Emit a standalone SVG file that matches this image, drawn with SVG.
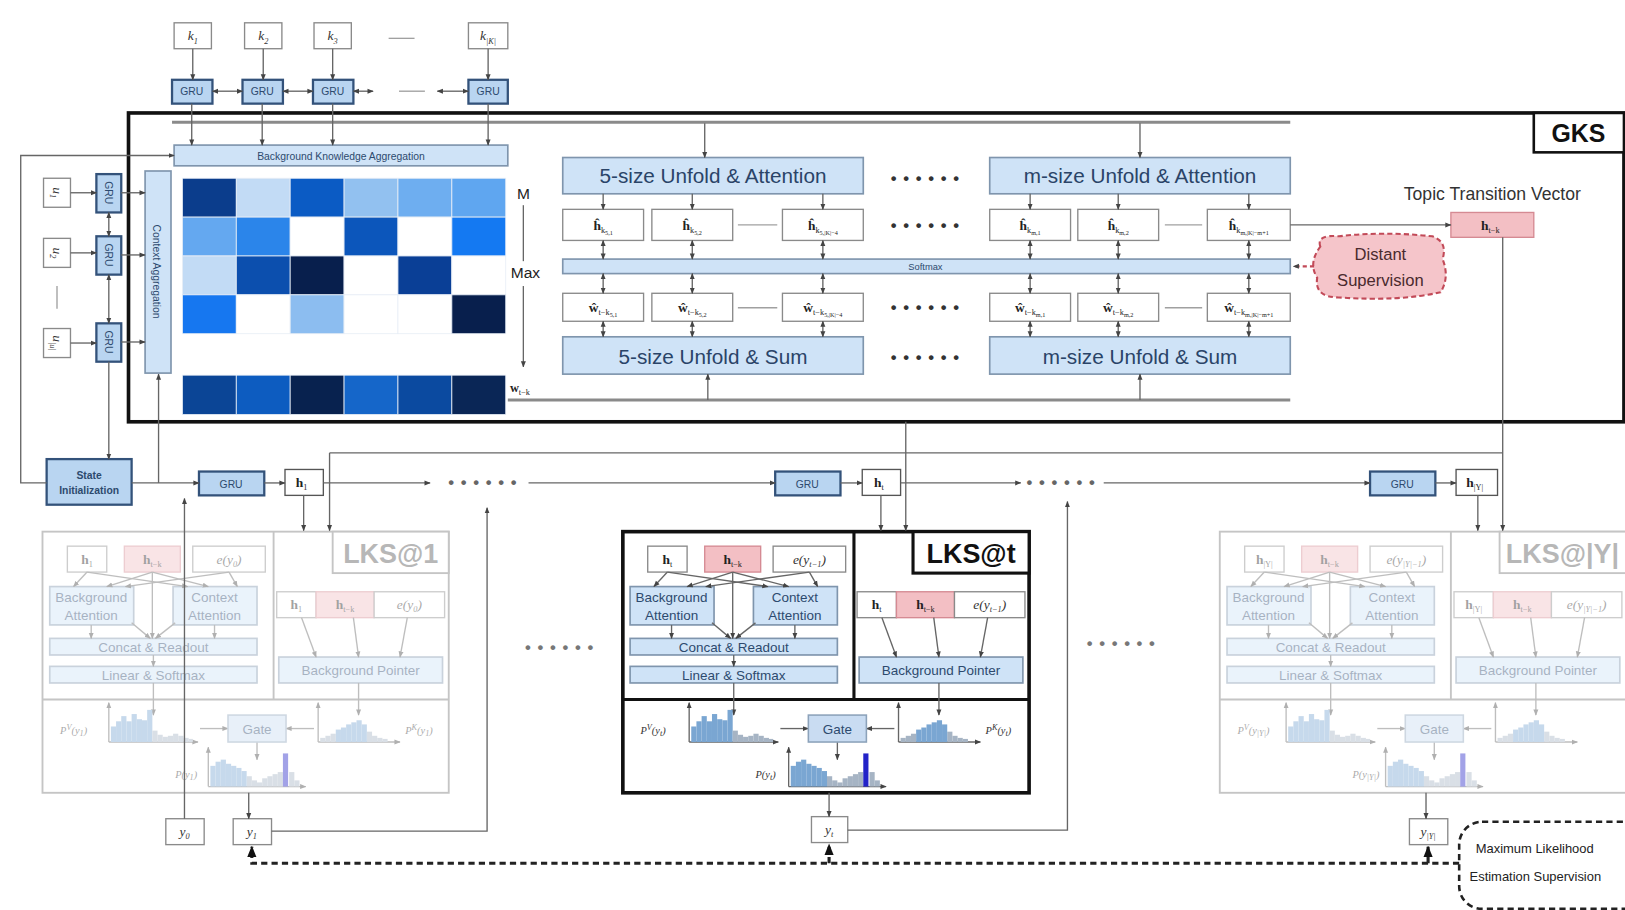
<svg xmlns="http://www.w3.org/2000/svg" width="1625" height="910" viewBox="0 0 1625 910">
<defs>
<style>
text{font-family:"Liberation Sans",Arial,sans-serif;fill:#2b3340}
.m{font-family:"Liberation Serif","Times New Roman",serif;font-weight:bold;fill:#222;font-size:13px}
.mi{font-family:"Liberation Serif","Times New Roman",serif;font-style:italic;fill:#333;font-size:13px}
.s{font-size:8px;font-weight:normal}
.ss{font-size:6px;font-weight:normal}
.c{text-anchor:middle}
.box{fill:#fff;stroke:#8a8a8a;stroke-width:1.3}
.blue{fill:#cfe3f7;stroke:#7f95ad;stroke-width:1.6}
.gru{fill:#b9d5f1;stroke:#33527a;stroke-width:2.2}
.pink{fill:#f3bfc4;stroke:#d58a93;stroke-width:1.3}
.ln{stroke:#666;stroke-width:1.3;fill:none}
.lg{stroke:#a0a0a0;stroke-width:1.3;fill:none}
.big{font-size:20px;fill:#2a4468}
.sm{font-size:10px;fill:#2d4a6e}
.bt{font-size:13px;fill:#2d4a6e}
.dots{font-size:16px;fill:#333;font-weight:bold;letter-spacing:1px}
.hb{fill:#7aa6d2}
.hg{fill:#a6b4c4}
.gate{fill:#c9dcf2;stroke:#8ca2ba;stroke-width:1.5}
</style>
<marker id="ah" viewBox="0 0 10 10" refX="9" refY="5" markerWidth="6" markerHeight="6" markerUnits="userSpaceOnUse" orient="auto-start-reverse"><path d="M0,1 L10,5 L0,9z" fill="#444"/></marker>
<marker id="ahb" viewBox="0 0 10 10" refX="9" refY="5" markerWidth="11" markerHeight="11" markerUnits="userSpaceOnUse" orient="auto-start-reverse"><path d="M0,1 L10,5 L0,9z" fill="#111"/></marker>
<g id="lksbody">
 <rect class="box" x="24" y="14" width="38" height="25"/>
 <rect class="pink" x="79" y="14" width="54" height="25"/>
 <rect class="box" x="145" y="14" width="70" height="25"/>
 <rect class="blue" x="7" y="53" width="81" height="37"/>
 <text class="bt c" x="47" y="68">Background</text><text class="bt c" x="47" y="85">Attention</text>
 <rect class="blue" x="126" y="53" width="81" height="37"/>
 <text class="bt c" x="166" y="68">Context</text><text class="bt c" x="166" y="85">Attention</text>
 <rect class="blue" x="7" y="103" width="200" height="16"/>
 <text class="bt c" x="107" y="116">Concat &amp; Readout</text>
 <rect class="blue" x="7" y="130" width="200" height="16"/>
 <text class="bt c" x="107" y="143">Linear &amp; Softmax</text>
 <rect class="box" x="226" y="58" width="38" height="25"/>
 <rect class="pink" x="264" y="58" width="56" height="25"/>
 <rect class="box" x="320" y="58" width="68" height="25"/>
 <rect class="blue" x="228" y="121" width="158" height="25"/>
 <text class="bt c" x="307" y="138">Background Pointer</text>
 <g class="ln" marker-end="url(#ah)">
  <line x1="43" y1="39" x2="30" y2="53"/><line x1="43" y1="39" x2="140" y2="53"/>
  <line x1="106" y1="39" x2="62" y2="53"/><line x1="106" y1="39" x2="160" y2="53"/>
  <line x1="180" y1="39" x2="80" y2="53"/><line x1="180" y1="39" x2="188" y2="53"/>
  <line x1="106" y1="39" x2="106" y2="103"/>
  <line x1="86" y1="88" x2="104" y2="103"/><line x1="128" y1="88" x2="109" y2="103"/>
  <line x1="47" y1="90" x2="47" y2="103"/><line x1="166" y1="90" x2="166" y2="103"/>
  <line x1="107" y1="119" x2="107" y2="130"/>
  <line x1="107" y1="146" x2="107" y2="177"/>
  <line x1="250" y1="83" x2="264" y2="121"/><line x1="300" y1="83" x2="305" y2="121"/><line x1="352" y1="83" x2="345" y2="121"/>
  <line x1="305" y1="146" x2="305" y2="177"/>
  <line x1="64" y1="203" x2="64" y2="165"/><line x1="64" y1="203" x2="150" y2="203"/>
  <line x1="266" y1="203" x2="266" y2="165"/><line x1="266" y1="203" x2="345" y2="203"/>
  <line x1="160" y1="246" x2="160" y2="208"/><line x1="160" y1="246" x2="254" y2="246"/>
  <line x1="152" y1="190" x2="179" y2="190"/><line x1="262" y1="190" x2="235" y2="190"/>
  <line x1="207" y1="203" x2="207" y2="220"/>
 </g>
 <rect class="gate" x="179" y="177" width="56" height="26"/>
 <text class="bt c" x="207" y="195">Gate</text>
 <g class="hb">
  <rect x="66" y="188" width="5" height="15"/><rect x="71" y="183" width="5" height="20"/><rect x="76" y="178" width="5" height="25"/><rect x="81" y="183" width="5" height="20"/><rect x="86" y="176" width="5" height="27"/><rect x="91" y="181" width="5" height="22"/><rect x="96" y="182" width="5" height="21"/><rect x="101" y="172" width="5" height="31"/>
 </g>
 <g class="hg">
  <rect x="106" y="192" width="5" height="11"/><rect x="111" y="196" width="5" height="7"/><rect x="116" y="198" width="5" height="5"/><rect x="121" y="197" width="5" height="6"/><rect x="126" y="195" width="5" height="8"/><rect x="131" y="197" width="5" height="6"/><rect x="136" y="199" width="5" height="4"/><rect x="141" y="200" width="4" height="3"/>
  <rect x="268" y="199" width="5" height="4"/><rect x="273" y="197" width="5" height="6"/><rect x="278" y="195" width="5" height="8"/><rect x="313" y="193" width="5" height="10"/><rect x="318" y="197" width="5" height="6"/><rect x="323" y="199" width="5" height="4"/><rect x="328" y="200" width="5" height="3"/>
  <rect x="197" y="236" width="5" height="10"/><rect x="202" y="240" width="5" height="6"/><rect x="207" y="242" width="5" height="4"/><rect x="212" y="238" width="5" height="8"/><rect x="217" y="236" width="5" height="10"/><rect x="222" y="234" width="5" height="12"/><rect x="227" y="232" width="5" height="14"/><rect x="238" y="232" width="5" height="14"/><rect x="243" y="240" width="5" height="6"/>
 </g>
 <g class="hb">
  <rect x="283" y="191" width="5" height="12"/><rect x="288" y="189" width="5" height="14"/><rect x="293" y="186" width="5" height="17"/><rect x="298" y="184" width="5" height="19"/><rect x="303" y="182" width="5" height="21"/><rect x="308" y="186" width="5" height="17"/>
  <rect x="162" y="226" width="5" height="20"/><rect x="167" y="222" width="5" height="24"/><rect x="172" y="220" width="5" height="26"/><rect x="177" y="224" width="5" height="22"/><rect x="182" y="226" width="5" height="20"/><rect x="187" y="228" width="5" height="18"/><rect x="192" y="231" width="5" height="15"/>
 </g>
 <rect x="232" y="214" width="5" height="32" fill="#2323c8"/>
</g>
</defs>
<rect width="1625" height="910" fill="#fff"/>
<g transform="scale(1.03635)">

<!-- GKS frame -->
<g id="gks-frame">
 <rect x="124" y="109" width="1443" height="298" fill="none" stroke="#111" stroke-width="3.5"/>
 <rect x="1480" y="109" width="87" height="38" fill="#fff" stroke="#111" stroke-width="2.5"/>
 <text x="1523" y="137" class="c" style="font-size:24px;font-weight:bold;fill:#111">GKS</text>
 <line x1="166" y1="118" x2="1245" y2="118" stroke="#8a8a8a" stroke-width="3"/>
 <line x1="490" y1="386" x2="1245" y2="386" stroke="#8a8a8a" stroke-width="3"/>
</g>

<!-- knowledge inputs -->
<g id="k1"><rect class="box" x="168" y="22" width="36" height="25"/><text class="mi c" x="186" y="39">k<tspan class="s" dy="3">1</tspan></text></g>
<g id="k2"><rect class="box" x="236" y="22" width="36" height="25"/><text class="mi c" x="254" y="39">k<tspan class="s" dy="3">2</tspan></text></g>
<g id="k3"><rect class="box" x="303" y="22" width="36" height="25"/><text class="mi c" x="321" y="39">k<tspan class="s" dy="3">3</tspan></text></g>
<g id="kK"><rect class="box" x="452" y="22" width="38" height="25"/><text class="mi c" x="471" y="39">k<tspan class="s" dy="3">|K|</tspan></text></g>
<g id="kgru1"><rect class="gru" x="166" y="77" width="39" height="23"/><text class="sm c" x="185" y="92">GRU</text></g>
<g id="kgru2"><rect class="gru" x="234" y="77" width="39" height="23"/><text class="sm c" x="253" y="92">GRU</text></g>
<g id="kgru3"><rect class="gru" x="302" y="77" width="39" height="23"/><text class="sm c" x="321" y="92">GRU</text></g>
<g id="kgru4"><rect class="gru" x="452" y="77" width="38" height="23"/><text class="sm c" x="471" y="92">GRU</text></g>
<g id="bka"><rect class="blue" x="168" y="140" width="322" height="20"/><text class="sm c" x="329" y="154">Background Knowledge Aggregation</text></g>

<!-- matrix -->
<g id="matrix" stroke="#e8eef6" stroke-width="0.8">
 <rect x="176" y="172" width="52" height="37.5" fill="#0b3d8c"/><rect x="228" y="172" width="52" height="37.5" fill="#c2dbf5"/><rect x="280" y="172" width="52" height="37.5" fill="#0b5bc4"/><rect x="332" y="172" width="52" height="37.5" fill="#92c1f0"/><rect x="384" y="172" width="52" height="37.5" fill="#6eaef0"/><rect x="436" y="172" width="52" height="37.5" fill="#5fa6f0"/>
 <rect x="176" y="209.5" width="52" height="37.5" fill="#64a8f0"/><rect x="228" y="209.5" width="52" height="37.5" fill="#2b85ea"/><rect x="280" y="209.5" width="52" height="37.5" fill="#ffffff"/><rect x="332" y="209.5" width="52" height="37.5" fill="#0c56bb"/><rect x="384" y="209.5" width="52" height="37.5" fill="#ffffff"/><rect x="436" y="209.5" width="52" height="37.5" fill="#1479f2"/>
 <rect x="176" y="247" width="52" height="37.5" fill="#c2dbf5"/><rect x="228" y="247" width="52" height="37.5" fill="#0c4fae"/><rect x="280" y="247" width="52" height="37.5" fill="#081f4d"/><rect x="332" y="247" width="52" height="37.5" fill="#ffffff"/><rect x="384" y="247" width="52" height="37.5" fill="#0a3f96"/><rect x="436" y="247" width="52" height="37.5" fill="#ffffff"/>
 <rect x="176" y="284.5" width="52" height="37.5" fill="#1677f0"/><rect x="228" y="284.5" width="52" height="37.5" fill="#ffffff"/><rect x="280" y="284.5" width="52" height="37.5" fill="#8cbdf0"/><rect x="332" y="284.5" width="52" height="37.5" fill="#ffffff"/><rect x="384" y="284.5" width="52" height="37.5" fill="#ffffff"/><rect x="436" y="284.5" width="52" height="37.5" fill="#081f4d"/>
</g>
<g id="wvec" stroke="#e8eef6" stroke-width="0.8">
 <rect x="176" y="362" width="52" height="38" fill="#0b4596"/><rect x="228" y="362" width="52" height="38" fill="#0d5cc0"/><rect x="280" y="362" width="52" height="38" fill="#08224f"/><rect x="332" y="362" width="52" height="38" fill="#1566c9"/><rect x="384" y="362" width="52" height="38" fill="#0b4aa0"/><rect x="436" y="362" width="52" height="38" fill="#0a2656"/>
</g>
<g id="max-label">
 <text x="505" y="192" class="c" style="font-size:15px;fill:#222">M</text>
 <text x="507" y="268" class="c" style="font-size:15px;fill:#222">Max</text>
 <text x="492" y="378" class="m" style="font-size:12px">w<tspan class="s" dy="3">t−k</tspan></text>
</g>

<!-- context encoder -->
<g id="u1"><rect class="box" x="42" y="172" width="26" height="28"/><text class="mi c" transform="translate(55,186) rotate(90)" y="4">u<tspan class="s" dy="3">1</tspan></text></g>
<g id="u2"><rect class="box" x="42" y="230" width="26" height="28"/><text class="mi c" transform="translate(55,244) rotate(90)" y="4">u<tspan class="s" dy="3">2</tspan></text></g>
<g id="uU"><rect class="box" x="42" y="317" width="26" height="28"/><text class="mi c" transform="translate(55,331) rotate(90)" y="4">u<tspan class="s" dy="3">|u|</tspan></text></g>
<line x1="55" y1="276" x2="55" y2="298" class="lg"/>
<g id="cgru1"><rect class="gru" x="93" y="168" width="24" height="37"/><text class="sm c" transform="translate(105,186) rotate(90)" y="4">GRU</text></g>
<g id="cgru2"><rect class="gru" x="93" y="228" width="24" height="37"/><text class="sm c" transform="translate(105,246) rotate(90)" y="4">GRU</text></g>
<g id="cgru3"><rect class="gru" x="93" y="312" width="24" height="37"/><text class="sm c" transform="translate(105,330) rotate(90)" y="4">GRU</text></g>
<g id="ctxagg"><rect class="blue" x="140" y="165" width="25" height="195"/><text class="sm c" transform="translate(152,262) rotate(90)" y="4">Context Aggregation</text></g>
<g id="stateinit"><rect class="gru" x="45" y="443" width="82" height="44"/><text class="sm c" x="86" y="462" style="font-weight:bold">State</text><text class="sm c" x="86" y="477" style="font-weight:bold">Initialization</text></g>

<!-- unfold blocks -->
<g id="att5"><rect class="blue" x="543" y="152" width="290" height="35"/><text class="big c" x="688" y="177">5-size Unfold &amp; Attention</text></g>
<g id="attm"><rect class="blue" x="955" y="152" width="290" height="35"/><text class="big c" x="1100" y="177">m-size Unfold &amp; Attention</text></g>
<g id="sum5"><rect class="blue" x="543" y="325" width="290" height="36"/><text class="big c" x="688" y="351">5-size Unfold &amp; Sum</text></g>
<g id="summ"><rect class="blue" x="955" y="325" width="290" height="36"/><text class="big c" x="1100" y="351">m-size Unfold &amp; Sum</text></g>
<g id="softmax"><rect class="blue" x="543" y="250" width="702" height="14"/><text class="c" x="893" y="261" style="font-size:9px;fill:#2d4a6e">Softmax</text></g>
<g id="hhat">
 <rect class="box" x="543" y="202" width="78" height="30"/><text class="m c" x="582" y="222">ĥ<tspan class="s" dy="3">k</tspan><tspan class="ss" dy="2">5,1</tspan></text>
 <rect class="box" x="629" y="202" width="78" height="30"/><text class="m c" x="668" y="222">ĥ<tspan class="s" dy="3">k</tspan><tspan class="ss" dy="2">5,2</tspan></text>
 <rect class="box" x="755" y="202" width="78" height="30"/><text class="m c" x="794" y="222">ĥ<tspan class="s" dy="3">k</tspan><tspan class="ss" dy="2">5,|K|−4</tspan></text>
 <rect class="box" x="955" y="202" width="78" height="30"/><text class="m c" x="994" y="222">ĥ<tspan class="s" dy="3">k</tspan><tspan class="ss" dy="2">m,1</tspan></text>
 <rect class="box" x="1040" y="202" width="78" height="30"/><text class="m c" x="1079" y="222">ĥ<tspan class="s" dy="3">k</tspan><tspan class="ss" dy="2">m,2</tspan></text>
 <rect class="box" x="1165" y="202" width="80" height="30"/><text class="m c" x="1205" y="222">ĥ<tspan class="s" dy="3">k</tspan><tspan class="ss" dy="2">m,|K|−m+1</tspan></text>
</g>
<g id="what">
 <rect class="box" x="543" y="283" width="78" height="27"/><text class="m c" x="582" y="301">ŵ<tspan class="s" dy="3">t−k</tspan><tspan class="ss" dy="2">5,1</tspan></text>
 <rect class="box" x="629" y="283" width="78" height="27"/><text class="m c" x="668" y="301">ŵ<tspan class="s" dy="3">t−k</tspan><tspan class="ss" dy="2">5,2</tspan></text>
 <rect class="box" x="755" y="283" width="78" height="27"/><text class="m c" x="794" y="301">ŵ<tspan class="s" dy="3">t−k</tspan><tspan class="ss" dy="2">5,|K|−4</tspan></text>
 <rect class="box" x="955" y="283" width="78" height="27"/><text class="m c" x="994" y="301">ŵ<tspan class="s" dy="3">t−k</tspan><tspan class="ss" dy="2">m,1</tspan></text>
 <rect class="box" x="1040" y="283" width="78" height="27"/><text class="m c" x="1079" y="301">ŵ<tspan class="s" dy="3">t−k</tspan><tspan class="ss" dy="2">m,2</tspan></text>
 <rect class="box" x="1165" y="283" width="80" height="27"/><text class="m c" x="1205" y="301">ŵ<tspan class="s" dy="3">t−k</tspan><tspan class="ss" dy="2">m,|K|−m+1</tspan></text>
</g>
<g id="ellipses">
 <text class="dots c" x="893" y="178">• • • • • •</text>
 <text class="dots c" x="893" y="223">• • • • • •</text>
 <text class="dots c" x="893" y="302">• • • • • •</text>
 <text class="dots c" x="893" y="350">• • • • • •</text>
 <line x1="712" y1="217" x2="750" y2="217" class="lg"/><line x1="712" y1="297" x2="750" y2="297" class="lg"/>
 <line x1="1124" y1="217" x2="1160" y2="217" class="lg"/><line x1="1124" y1="297" x2="1160" y2="297" class="lg"/>
 <line x1="375" y1="37" x2="400" y2="37" class="lg"/>
 <line x1="385" y1="88" x2="410" y2="88" class="lg"/>
</g>
<g id="topic-vector">
 <text class="c" x="1440" y="193" style="font-size:17px;fill:#333">Topic Transition Vector</text>
 <rect class="pink" x="1400" y="205" width="80" height="24"/><text class="m c" x="1438" y="222">h<tspan class="s" dy="3">t−k</tspan></text>
</g>
<g id="distant">
 <path d="M1274,238 Q1270,226 1292,228 Q1335,223 1382,228 Q1397,233 1392,250 Q1399,268 1390,282 Q1350,291 1292,287 Q1268,287 1271,268 Q1262,254 1274,238 Z" fill="#f5c5ca" stroke="#c24a58" stroke-width="2" stroke-dasharray="5,3"/>
 <text class="c" x="1332" y="251" style="font-size:16px;fill:#4a2a2e">Distant</text>
 <text class="c" x="1332" y="276" style="font-size:16px;fill:#4a2a2e">Supervision</text>
</g>

<!-- decoder chain -->
<g id="dgru1"><rect class="gru" x="192" y="455" width="63" height="23"/><text class="sm c" x="223" y="471">GRU</text></g>
<g id="h1"><rect class="box" x="275" y="453" width="37" height="25" style="stroke:#555"/><text class="m c" x="291" y="470">h<tspan class="s" dy="3">1</tspan></text></g>
<g id="dgru2"><rect class="gru" x="748" y="455" width="63" height="23"/><text class="sm c" x="779" y="471">GRU</text></g>
<g id="ht"><rect class="box" x="832" y="453" width="37" height="25" style="stroke:#555"/><text class="m c" x="848" y="470">h<tspan class="s" dy="3">t</tspan></text></g>
<g id="dgru3"><rect class="gru" x="1322" y="455" width="63" height="23"/><text class="sm c" x="1353" y="471">GRU</text></g>
<g id="hY"><rect class="box" x="1405" y="453" width="40" height="25" style="stroke:#555"/><text class="m c" x="1423" y="470">h<tspan class="s" dy="3">|Y|</tspan></text></g>
<text class="dots c" x="466" y="471" style="fill:#666">• • • • • •</text>
<text class="dots c" x="1024" y="471" style="fill:#666">• • • • • •</text>
<text class="dots c" x="540" y="630" style="fill:#777">• • • • • •</text>
<text class="dots c" x="1082" y="626" style="fill:#777">• • • • • •</text>

<!-- LKS modules -->
<g id="lks-1" transform="translate(41,513)" opacity="0.42">
 <rect width="392" height="252" fill="#fff" stroke="#777" stroke-width="1.8"/>
 <line x1="223" y1="0" x2="223" y2="162" stroke="#777" stroke-width="1.8"/><line x1="0" y1="162" x2="392" y2="162" stroke="#777" stroke-width="1.8"/>
 <rect x="280" y="0" width="112" height="40" fill="#fff" stroke="#777" stroke-width="1.8"/>
 <text class="c" x="336" y="30" style="font-size:26px;font-weight:bold;fill:#555">LKS@1</text>
 <use href="#lksbody"/>
 <text class="m c" x="43" y="31">h<tspan class="s" dy="3">1</tspan></text>
 <text class="m c" x="106" y="31">h<tspan class="s" dy="3">t−k</tspan></text>
 <text class="mi c" x="180" y="31">e(y<tspan class="s" dy="3">0</tspan><tspan dy="-3">)</tspan></text>
 <text class="m c" x="245" y="75">h<tspan class="s" dy="3">1</tspan></text>
 <text class="m c" x="292" y="75">h<tspan class="s" dy="3">t−k</tspan></text>
 <text class="mi c" x="354" y="75">e(y<tspan class="s" dy="3">0</tspan><tspan dy="-3">)</tspan></text>
 <text class="mi" x="17" y="195" style="font-size:10px">P<tspan class="s" dy="-4">V</tspan><tspan dy="4">(y</tspan><tspan class="s" dy="2">1</tspan><tspan dy="-2">)</tspan></text>
 <text class="mi" x="350" y="195" style="font-size:10px">P<tspan class="s" dy="-4">K</tspan><tspan dy="4">(y</tspan><tspan class="s" dy="2">1</tspan><tspan dy="-2">)</tspan></text>
 <text class="mi" x="128" y="238" style="font-size:10px">P(y<tspan class="s" dy="2">1</tspan><tspan dy="-2">)</tspan></text>
</g>
<g id="lks-t" transform="translate(601,513)">
 <rect width="392" height="252" fill="#fff" stroke="#111" stroke-width="3.5"/>
 <line x1="223" y1="0" x2="223" y2="162" stroke="#111" stroke-width="3"/><line x1="0" y1="162" x2="392" y2="162" stroke="#111" stroke-width="3"/>
 <rect x="280" y="0" width="112" height="40" fill="#fff" stroke="#111" stroke-width="3"/>
 <text class="c" x="336" y="30" style="font-size:26px;font-weight:bold;fill:#111">LKS@t</text>
 <use href="#lksbody"/>
 <text class="m c" x="43" y="31">h<tspan class="s" dy="3">t</tspan></text>
 <text class="m c" x="106" y="31">h<tspan class="s" dy="3">t−k</tspan></text>
 <text class="mi c" x="180" y="31">e(y<tspan class="s" dy="3">t−1</tspan><tspan dy="-3">)</tspan></text>
 <text class="m c" x="245" y="75">h<tspan class="s" dy="3">t</tspan></text>
 <text class="m c" x="292" y="75">h<tspan class="s" dy="3">t−k</tspan></text>
 <text class="mi c" x="354" y="75">e(y<tspan class="s" dy="3">t−1</tspan><tspan dy="-3">)</tspan></text>
 <text class="mi" x="17" y="195" style="font-size:10px">P<tspan class="s" dy="-4">V</tspan><tspan dy="4">(y</tspan><tspan class="s" dy="2">t</tspan><tspan dy="-2">)</tspan></text>
 <text class="mi" x="350" y="195" style="font-size:10px">P<tspan class="s" dy="-4">K</tspan><tspan dy="4">(y</tspan><tspan class="s" dy="2">t</tspan><tspan dy="-2">)</tspan></text>
 <text class="mi" x="128" y="238" style="font-size:10px">P(y<tspan class="s" dy="2">t</tspan><tspan dy="-2">)</tspan></text>
</g>
<g id="lks-Y" transform="translate(1177,513)" opacity="0.42">
 <rect width="392" height="252" fill="#fff" stroke="#777" stroke-width="1.8"/>
 <line x1="223" y1="0" x2="223" y2="162" stroke="#777" stroke-width="1.8"/><line x1="0" y1="162" x2="392" y2="162" stroke="#777" stroke-width="1.8"/>
 <rect x="270" y="0" width="130" height="40" fill="#fff" stroke="#777" stroke-width="1.8"/>
 <text x="276" y="30" style="font-size:26px;font-weight:bold;fill:#555">LKS@|Y|</text>
 <use href="#lksbody"/>
 <text class="m c" x="43" y="31">h<tspan class="s" dy="3">|Y|</tspan></text>
 <text class="m c" x="106" y="31">h<tspan class="s" dy="3">t−k</tspan></text>
 <text class="mi c" x="180" y="31">e(y<tspan class="s" dy="3">|Y|−1</tspan><tspan dy="-3">)</tspan></text>
 <text class="m c" x="245" y="75">h<tspan class="s" dy="3">|Y|</tspan></text>
 <text class="m c" x="292" y="75">h<tspan class="s" dy="3">t−k</tspan></text>
 <text class="mi c" x="354" y="75">e(y<tspan class="s" dy="3">|Y|−1</tspan><tspan dy="-3">)</tspan></text>
 <text class="mi" x="17" y="195" style="font-size:10px">P<tspan class="s" dy="-4">V</tspan><tspan dy="4">(y</tspan><tspan class="s" dy="2">|Y|</tspan><tspan dy="-2">)</tspan></text>
 <text class="mi" x="128" y="238" style="font-size:10px">P(y<tspan class="s" dy="2">|Y|</tspan><tspan dy="-2">)</tspan></text>
</g>

<!-- outputs -->
<g id="y0"><rect class="box" x="160" y="790" width="37" height="25"/><text class="mi c" x="178" y="807">y<tspan class="s" dy="3">0</tspan></text></g>
<g id="y1"><rect class="box" x="225" y="790" width="37" height="25"/><text class="mi c" x="243" y="807">y<tspan class="s" dy="3">1</tspan></text></g>
<g id="yt"><rect class="box" x="783" y="788" width="35" height="25"/><text class="mi c" x="800" y="805">y<tspan class="s" dy="3">t</tspan></text></g>
<g id="yY"><rect class="box" x="1360" y="790" width="37" height="25"/><text class="mi c" x="1378" y="807">y<tspan class="s" dy="3">|Y|</tspan></text></g>
<g id="mle">
 <rect x="1408" y="793" width="180" height="84" rx="22" fill="#fff" stroke="#222" stroke-width="2.5" stroke-dasharray="6,4"/>
 <text x="1424" y="823" style="font-size:12.5px;fill:#222">Maximum Likelihood</text>
 <text x="1418" y="850" style="font-size:12.5px;fill:#222">Estimation Supervision</text>
</g>

<!-- connectors -->
<g id="connectors" class="ln" marker-end="url(#ah)">
 <line x1="186" y1="47" x2="186" y2="77"/><line x1="254" y1="47" x2="254" y2="77"/><line x1="321" y1="47" x2="321" y2="77"/><line x1="471" y1="47" x2="471" y2="77"/>
 <line x1="205" y1="88" x2="234" y2="88" marker-start="url(#ah)"/><line x1="273" y1="88" x2="302" y2="88" marker-start="url(#ah)"/><line x1="341" y1="88" x2="360" y2="88" marker-start="url(#ah)"/><line x1="422" y1="88" x2="452" y2="88" marker-start="url(#ah)"/>
 <line x1="185" y1="100" x2="185" y2="140"/><line x1="253" y1="100" x2="253" y2="140"/><line x1="321" y1="100" x2="321" y2="140"/><line x1="471" y1="100" x2="471" y2="140"/>
 <polyline points="45,466 20,466 20,150 168,150"/>
 <line x1="68" y1="186" x2="93" y2="186"/><line x1="68" y1="244" x2="93" y2="244"/><line x1="68" y1="331" x2="93" y2="331"/>
 <line x1="117" y1="186" x2="140" y2="186"/><line x1="117" y1="246" x2="140" y2="246"/><line x1="117" y1="330" x2="140" y2="330"/>
 <line x1="105" y1="205" x2="105" y2="228" marker-start="url(#ah)"/><line x1="105" y1="265" x2="105" y2="312" marker-start="url(#ah)"/>
 <line x1="105" y1="349" x2="105" y2="443"/>
 <line x1="153" y1="466" x2="153" y2="361"/>
 <line x1="127" y1="466" x2="192" y2="466"/>
 <line x1="255" y1="466" x2="275" y2="466"/>
 <line x1="312" y1="466" x2="415" y2="466"/>
 <line x1="510" y1="466" x2="748" y2="466"/>
 <line x1="811" y1="466" x2="832" y2="466"/>
 <line x1="869" y1="466" x2="985" y2="466"/>
 <line x1="1065" y1="466" x2="1322" y2="466"/>
 <line x1="1385" y1="466" x2="1405" y2="466"/>
 <line x1="293" y1="478" x2="293" y2="512"/><line x1="850" y1="478" x2="850" y2="512"/><line x1="1426" y1="478" x2="1426" y2="512"/>
 <line x1="1450" y1="229" x2="1450" y2="512"/>
 <line x1="1450" y1="437" x2="318" y2="437" marker-end="none"/>
 <line x1="318" y1="437" x2="318" y2="512"/>
 <line x1="874" y1="407" x2="874" y2="512"/>
 <line x1="178" y1="790" x2="178" y2="481"/>
 <polyline points="262,802 470,802 470,490"/>
 <polyline points="818,801 1030,801 1030,484"/>
 <line x1="240" y1="765" x2="240" y2="790"/><line x1="800" y1="765" x2="800" y2="788"/><line x1="1376" y1="765" x2="1376" y2="790"/>
 <line x1="680" y1="119" x2="680" y2="152"/><line x1="1100" y1="119" x2="1100" y2="152"/>
 <line x1="683" y1="386" x2="683" y2="361"/><line x1="1100" y1="386" x2="1100" y2="361"/>
 <line x1="1245" y1="217" x2="1400" y2="217"/>
 <line x1="1268" y1="257" x2="1248" y2="257" stroke-dasharray="4,3" stroke="#c24a58" stroke-width="2"/>
 <line x1="505" y1="198" x2="505" y2="252" marker-end="none"/><line x1="505" y1="276" x2="505" y2="354"/>
 <g>
  <line x1="582" y1="187" x2="582" y2="202"/><line x1="668" y1="187" x2="668" y2="202"/><line x1="794" y1="187" x2="794" y2="202"/><line x1="994" y1="187" x2="994" y2="202"/><line x1="1079" y1="187" x2="1079" y2="202"/><line x1="1205" y1="187" x2="1205" y2="202"/>
  <line x1="582" y1="232" x2="582" y2="250" marker-start="url(#ah)"/><line x1="668" y1="232" x2="668" y2="250" marker-start="url(#ah)"/><line x1="794" y1="232" x2="794" y2="250" marker-start="url(#ah)"/><line x1="994" y1="232" x2="994" y2="250" marker-start="url(#ah)"/><line x1="1079" y1="232" x2="1079" y2="250" marker-start="url(#ah)"/><line x1="1205" y1="232" x2="1205" y2="250" marker-start="url(#ah)"/>
  <line x1="582" y1="264" x2="582" y2="283" marker-start="url(#ah)"/><line x1="668" y1="264" x2="668" y2="283" marker-start="url(#ah)"/><line x1="794" y1="264" x2="794" y2="283" marker-start="url(#ah)"/><line x1="994" y1="264" x2="994" y2="283" marker-start="url(#ah)"/><line x1="1079" y1="264" x2="1079" y2="283" marker-start="url(#ah)"/><line x1="1205" y1="264" x2="1205" y2="283" marker-start="url(#ah)"/>
  <line x1="582" y1="310" x2="582" y2="325" marker-start="url(#ah)"/><line x1="668" y1="310" x2="668" y2="325" marker-start="url(#ah)"/><line x1="794" y1="310" x2="794" y2="325" marker-start="url(#ah)"/><line x1="994" y1="310" x2="994" y2="325" marker-start="url(#ah)"/><line x1="1079" y1="310" x2="1079" y2="325" marker-start="url(#ah)"/><line x1="1205" y1="310" x2="1205" y2="325" marker-start="url(#ah)"/>
 </g>
 <g stroke="#222" stroke-width="3" stroke-dasharray="6,4" marker-end="url(#ahb)">
  <polyline points="1408,833 243,833 243,817"/>
  <line x1="800" y1="833" x2="800" y2="815"/>
  <line x1="1378" y1="833" x2="1378" y2="817"/>
 </g>
</g>
</g>
</svg>
